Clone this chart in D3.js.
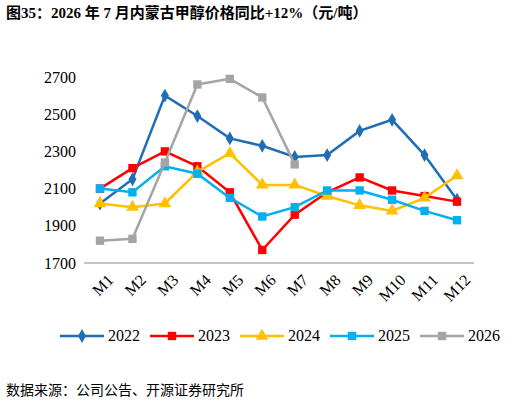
<!DOCTYPE html><html><head><meta charset="utf-8"><script src="https://cdn.jsdelivr.net/npm/d3@7"></script>
<style>body{margin:0;background:#fff}</style></head><body><svg id="c" width="520" height="405"></svg>
<script>
const months=["M1","M2","M3","M4","M5","M6","M7","M8","M9","M10","M11","M12"];
const yTicks=[1700,1900,2100,2300,2500,2700];
const s2022=[2020,2150,2600,2490,2370,2330,2270,2280,2410,2470,2280,2040];
const s2023=[2100,2210,2300,2220,2080,1770,1960,2080,2160,2090,2060,2030];
const s2024=[2020,2000,2020,2190,2290,2120,2120,2060,2010,1980,2050,2170];
const s2025=[2100,2080,2220,2180,2050,1950,2000,2090,2090,2040,1980,1930];
const s2026=[1820,1830,2240,2660,2690,2590,2230];
const series=[{n:"2022",d:s2022,c:"#1F6EB5",m:"diamond"},{n:"2023",d:s2023,c:"#FF0000",m:"square"},{n:"2024",d:s2024,c:"#FFC000",m:"triangle"},{n:"2025",d:s2025,c:"#00B0F0",m:"square"},{n:"2026",d:s2026,c:"#A5A5A5",m:"square"}];
const svg=d3.select("#c");
const F="'Liberation Serif','Noto Sans CJK SC',serif";
svg.append("text").attr("x",6).attr("y",18).attr("font-family",F).attr("font-weight","bold").attr("font-size",15).text("图35：2026 年 7 月内蒙古甲醇价格同比+12%（元/吨）");
const x=d3.scalePoint().domain(months).range([100,457]);
const y=d3.scaleLinear().domain([1700,2700]).range([263,77]);
const ya=svg.append("g").attr("transform","translate(82,0)").call(d3.axisLeft(y).tickValues(yTicks).tickFormat(d3.format("d")).tickSize(0).tickPadding(6));
ya.select(".domain").remove();ya.selectAll("text").attr("font-family",F).attr("font-size",16).attr("fill","#000");
const xa=svg.append("g").attr("transform","translate(0,263)").call(d3.axisBottom(x).tickSize(0).tickSizeOuter(0));
xa.select(".domain").attr("stroke","#888").attr("d","M84,0H474");
xa.selectAll("text").attr("font-family",F).attr("font-size",16).attr("fill","#000").attr("text-anchor","end").attr("transform","translate(4,8) rotate(-45)").attr("dy","0.7em");
const sym={diamond:d3.symbol(d3.symbolDiamond,55),square:d3.symbol(d3.symbolSquare,70),triangle:d3.symbol(d3.symbolTriangle,70)};
series.forEach(s=>{
 svg.append("path").attr("d",d3.line().x((v,i)=>x(months[i])).y(v=>y(v))(s.d)).attr("fill","none").attr("stroke",s.c).attr("stroke-width",2.5);
 s.d.forEach((v,i)=>svg.append("path").attr("d",sym[s.m]()).attr("transform",`translate(${x(months[i])},${y(v)})`).attr("fill",s.c));
});
const lg=svg.append("g").attr("transform","translate(60,336)");
series.forEach((s,i)=>{const g=lg.append("g").attr("transform",`translate(${i*90},0)`);
 g.append("line").attr("x1",0).attr("x2",44).attr("stroke",s.c).attr("stroke-width",2.5);
 g.append("path").attr("d",sym[s.m]()).attr("transform","translate(22,0)").attr("fill",s.c);
 g.append("text").attr("x",48).attr("y",5).attr("font-family",F).attr("font-size",16).text(s.n);});
svg.append("text").attr("x",6).attr("y",395).attr("font-family",F).attr("font-size",14).text("数据来源：公司公告、开源证券研究所");
</script></body></html>
